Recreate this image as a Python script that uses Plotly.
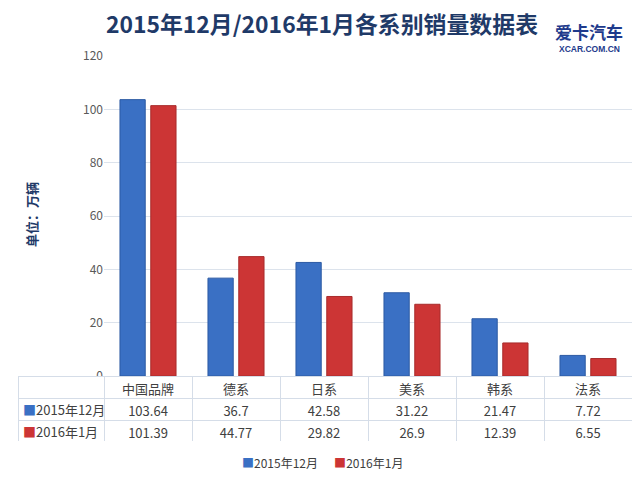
import plotly.graph_objects as go

categories = ["中国品牌", "德系", "日系", "美系", "韩系", "法系"]
series_names = ["2015年12月", "2016年1月"]
dec_2015 = [103.64, 36.7, 42.58, 31.22, 21.47, 7.72]
jan_2016 = [101.39, 44.77, 29.82, 26.9, 12.39, 6.55]
y_ticks = [0, 20, 40, 60, 80, 100, 120]

blue = "#3A70C4"
red = "#CC3535"
font = "Noto Sans CJK SC"
# the page body has an 8px margin, so the figure is a bit smaller and shifted
OFF = 8
W, H = 640 - OFF, 480 - OFF


def px(x):  # page pixel column -> paper x
    return (x - OFF) / W


def py(y):  # page pixel row -> paper y
    return 1 - (y - OFF) / H


fig = go.Figure()
fig.add_trace(go.Bar(x=categories, y=dec_2015, name=series_names[0], showlegend=False,
                     marker=dict(color=blue, line=dict(color="#2C5AA3", width=1))))
fig.add_trace(go.Bar(x=categories, y=jan_2016, name=series_names[1], showlegend=False,
                     marker=dict(color=red, line=dict(color="#A82C2C", width=1))))

# data table under the plot (row labels drawn as annotations so the square can be coloured)
cols = [["", ""]] + [[str(a), str(b)] for a, b in zip(dec_2015, jan_2016)]
fig.add_trace(go.Table(
    domain=dict(x=[px(18), px(632)], y=[py(442), py(376)]),
    columnwidth=[86] + [88] * 6,
    header=dict(values=[""] + categories, height=22, align="center",
                fill_color="white", line_color="#D5DDE8",
                font=dict(family=font, size=13, color="#404040")),
    cells=dict(values=cols, height=22, align="center",
               fill_color="white", line_color="#D5DDE8",
               font=dict(family=font, size=13, color="#404040")),
))

annotations = [
    dict(text="<b>爱卡汽车</b>", x=px(589), y=py(32),
         font=dict(family=font, size=17, color="#1E3A8C")),
    dict(text="<b>XCAR.COM.CN</b>", x=px(589), y=py(48.5),
         font=dict(family="Liberation Sans", size=8.5, color="#1E3A8C")),
    dict(text="<b>单位：万辆</b>", x=px(31), y=py(215), textangle=-90,
         font=dict(family=font, size=13, color="#1F3A68")),
]
for i, (name, c) in enumerate(zip(series_names, [blue, red])):
    annotations.append(dict(
        text="<span style='color:%s'>■</span>%s" % (c, name),
        x=px(21), xanchor="left", y=py(409 + 22 * i),
        font=dict(family=font, size=13, color="#404040")))
annotations.append(dict(
    text="<span style='color:%s'>■</span>%s      <span style='color:%s'>■</span>%s"
         % (blue, series_names[0], red, series_names[1]),
    x=px(322), y=py(462),
    font=dict(family=font, size=12, color="#404040")))
for a in annotations:
    a.setdefault("xanchor", "center")
    a.update(xref="paper", yref="paper", yanchor="middle", showarrow=False)

fig.update_layout(
    width=W, height=H,
    margin=dict(l=0, r=0, t=0, b=0, autoexpand=False),
    paper_bgcolor="white", plot_bgcolor="white",
    font=dict(family=font, color="#595959"),
    barmode="group", bargap=0.3, bargroupgap=0.18,
    showlegend=False,
    title=dict(text="<b>2015年12月/2016年1月各系别销量数据表</b>",
               x=px(322), xanchor="center", y=py(25), yanchor="middle",
               font=dict(family=font, size=22.9, color="#1F3A68")),
    xaxis=dict(domain=[px(104), px(632)], showticklabels=False, ticks="",
               showline=True, linecolor="#D5DDE8", showgrid=False),
    yaxis=dict(domain=[py(376), py(56)], range=[0, 120], tickvals=y_ticks,
               showgrid=True, gridcolor="#DCE3EC", zeroline=False,
               ticks="", ticklen=0, tickfont=dict(size=12, color="#595959")),
    annotations=annotations,
)

fig.write_html("out.html")
